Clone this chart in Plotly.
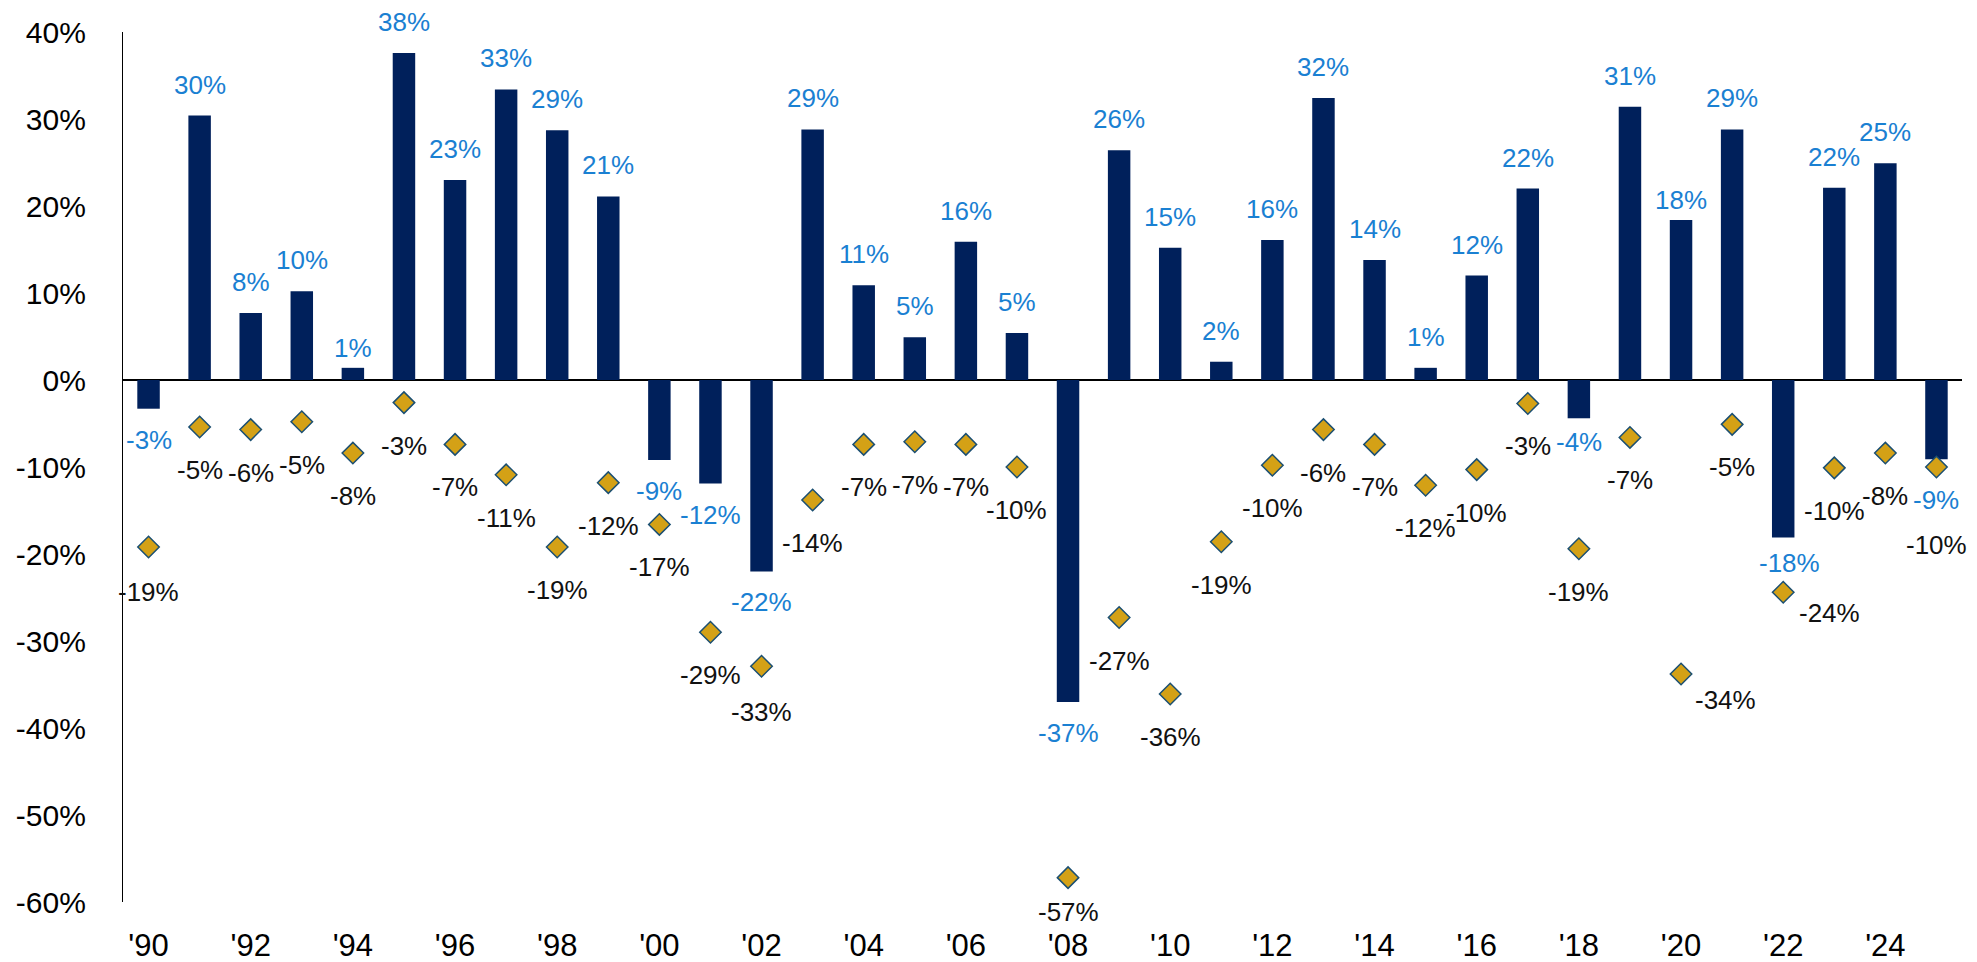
import plotly.graph_objects as go

# Calendar years shown on the x axis
years = list(range(1990, 2026))

# Annual returns (%)
annual_returns = [
    -3.3, 30.4, 7.7, 10.2, 1.4, 37.6, 23.0, 33.4, 28.7, 21.1,
    -9.2, -11.9, -22.0, 28.8, 10.9, 4.9, 15.9, 5.4, -37.0, 26.4,
    15.2, 2.1, 16.1, 32.4, 13.8, 1.4, 12.0, 22.0, -4.4, 31.4,
    18.4, 28.8, -18.1, 22.1, 24.9, -9.1,
]

# Largest intra-year decline (%)
intra_year_declines = [
    -19.2, -5.4, -5.7, -4.8, -8.4, -2.6, -7.4, -10.9, -19.2, -11.8,
    -16.6, -29.0, -32.9, -13.8, -7.4, -7.1, -7.4, -10.0, -57.2, -27.3,
    -36.1, -18.6, -9.8, -5.7, -7.4, -12.1, -10.3, -2.7, -19.4, -6.6,
    -33.8, -5.1, -24.4, -10.1, -8.4, -10.0,
]

# Axis ticks
tick_years = list(range(1990, 2025, 2))
tick_text = ["'" + str(y)[2:] for y in tick_years]
y_ticks = list(range(-60, 41, 10))
y_tick_text = [f"{v}%" for v in y_ticks]

BAR_COLOR = "#00205B"
DIAMOND_FILL = "#D4A116"
DIAMOND_EDGE = "#1B4F72"
RETURN_TEXT = "#1A80D2"
DECLINE_TEXT = "#111111"
FONT = "Liberation Sans, Arial, sans-serif"

# Label placement tweaks (xshift, yshift) in pixels
return_label_shift = {1994: (0, 20), 2020: (0, 20), 2018: (0, -24),
                      2022: (6, -26), 2025: (0, -41)}
decline_label_shift = {2008: (0, -34), 2020: (44, -26), 2022: (46, -21),
                       2025: (0, -78), 2002: (0, -46), 1990: (0, -45)}

fig = go.Figure()

fig.add_trace(go.Bar(
    x=years, y=annual_returns, width=0.44,
    marker=dict(color=BAR_COLOR, line=dict(width=0)),
    hoverinfo="x+y", showlegend=False,
))

fig.add_trace(go.Scatter(
    x=years, y=intra_year_declines, mode="markers",
    marker=dict(symbol="diamond", size=16.5, color=DIAMOND_FILL,
                line=dict(color=DIAMOND_EDGE, width=1.5)),
    hoverinfo="x+y", showlegend=False,
))

annotations = []
for yr, ret, dec in zip(years, annual_returns, intra_year_declines):
    dx, dy = return_label_shift.get(yr, (0, 31 if ret >= 0 else -31))
    annotations.append(dict(
        x=yr, y=ret, xref="x", yref="y", text=f"{round(ret):d}%",
        showarrow=False, xanchor="center", yanchor="middle",
        xshift=dx, yshift=dy,
        font=dict(family=FONT, size=26, color=RETURN_TEXT),
    ))
    dx, dy = decline_label_shift.get(yr, (0, -43))
    annotations.append(dict(
        x=yr, y=dec, xref="x", yref="y", text=f"{round(dec):d}%",
        showarrow=False, xanchor="center", yanchor="middle",
        xshift=dx, yshift=dy,
        font=dict(family=FONT, size=26, color=DECLINE_TEXT),
    ))

fig.update_layout(
    width=1977, height=962,
    margin=dict(l=123, r=15, t=32, b=60, autoexpand=False),
    paper_bgcolor="white", plot_bgcolor="white",
    annotations=annotations,
    font=dict(family=FONT, color="black"),
)

fig.update_xaxes(
    range=[1989.5, 2025.5], automargin=False,
    tickmode="array", tickvals=tick_years, ticktext=tick_text,
    tickfont=dict(family=FONT, size=31, color="black"),
    showgrid=False, zeroline=False, showline=False, ticks="",
    ticklabelstandoff=22,
)

fig.update_yaxes(
    range=[-60, 40], automargin=False,
    tickmode="array", tickvals=y_ticks, ticktext=y_tick_text,
    tickfont=dict(family=FONT, size=30, color="black"),
    showgrid=False, showline=True, linecolor="black", linewidth=1.3,
    zeroline=True, zerolinecolor="black", zerolinewidth=1.5,
    ticks="", ticklabelstandoff=30,
)

fig.write_html("out.html")
